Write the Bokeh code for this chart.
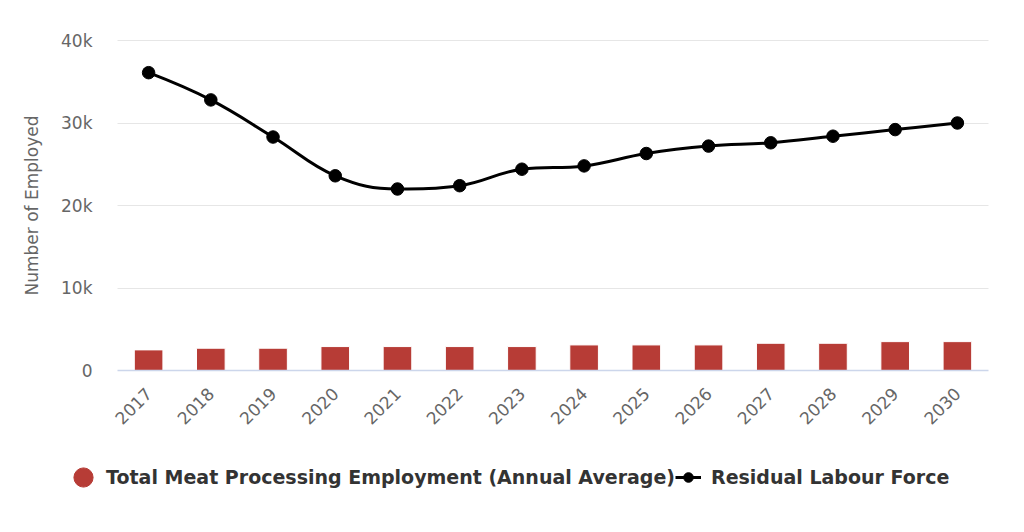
import math
from bokeh.plotting import figure
from bokeh.models import (Range1d, FixedTicker, Legend, LegendItem, ColumnDataSource)
from bokeh.embed import file_html
from bokeh.resources import INLINE

years = ["2017", "2018", "2019", "2020", "2021", "2022", "2023",
         "2024", "2025", "2026", "2027", "2028", "2029", "2030"]
meat_employment = [2500, 2700, 2700, 2900, 2900, 2900, 2900,
                   3100, 3100, 3100, 3300, 3300, 3500, 3500]
residual_labour = [36100, 32800, 28300, 23600, 22000, 22400, 24400,
                   24800, 26300, 27200, 27600, 28400, 29200, 30000]
y_ticks = [0, 10000, 20000, 30000, 40000]
y_tick_labels = ["0", "10k", "20k", "30k", "40k"]

FONT = "DejaVu Sans"
BAR_COLOR = "#b73c36"
xs = list(range(len(years)))

# page layout (pixels): the plotting area sits inside a full-size frame
W, H = 1008, 516
PL, PR, PT, PB = 117, 988, 40, 370
n = len(years)
x_scale = (PR - PL) / n
x_lo, x_hi = -0.5, n - 0.5
y_lo, y_hi = y_ticks[0], y_ticks[-1]
y_scale = (PB - PT) / (y_hi - y_lo)
x_range = Range1d(x_lo - PL / x_scale, x_hi + (W - PR) / x_scale)
y_range = Range1d(y_lo - (H - PB) / y_scale, y_hi + PT / y_scale)

p = figure(width=W, height=H, output_backend="svg", toolbar_location=None,
           x_range=x_range, y_range=y_range, min_border=0)
p.outline_line_color = None
p.background_fill_color = "white"
p.border_fill_color = "white"

# grid (only across the plotting area)
p.xgrid.grid_line_color = None
p.ygrid.ticker = FixedTicker(ticks=y_ticks[1:])
p.ygrid.grid_line_color = "#e6e6e6"
p.ygrid.grid_line_width = 1
if "cross_bounds" in p.ygrid[0].properties():
    p.ygrid.cross_bounds = (x_lo, x_hi)

# legend symbol for the bars: circles drawn first, fully covered by the bars
leg_bar = p.ellipse(x=xs, y=[v / 2 for v in meat_employment], width=16, height=16,
                    width_units="screen", height_units="screen",
                    fill_color=BAR_COLOR, line_color=BAR_COLOR)

# bars
bars = p.vbar(x=xs, top=meat_employment, width=0.46, bottom=0,
              fill_color=BAR_COLOR, line_color="white", line_width=1)

# Highcharts-like spline (smoothing 1.5) computed from the data points
def spline_controls(x, y, smoothing=1.5):
    m = len(x)
    left = [None] * m
    right = [None] * m
    denom = smoothing + 1
    for i in range(1, m - 1):
        lx = (smoothing * x[i] + x[i - 1]) / denom
        ly = (smoothing * y[i] + y[i - 1]) / denom
        rx = (smoothing * x[i] + x[i + 1]) / denom
        ry = (smoothing * y[i] + y[i + 1]) / denom
        if rx != lx:
            corr = ((ry - ly) * (rx - x[i])) / (rx - lx) + y[i] - ry
            ly += corr
            ry += corr
        if ly > y[i - 1] and ly > y[i]:
            ly = max(y[i - 1], y[i]); ry = 2 * y[i] - ly
        elif ly < y[i - 1] and ly < y[i]:
            ly = min(y[i - 1], y[i]); ry = 2 * y[i] - ly
        if ry > y[i + 1] and ry > y[i]:
            ry = max(y[i + 1], y[i]); ly = 2 * y[i] - ry
        elif ry < y[i + 1] and ry < y[i]:
            ry = min(y[i + 1], y[i]); ly = 2 * y[i] - ry
        left[i] = (lx, ly)
        right[i] = (rx, ry)
    segs = dict(x0=[], y0=[], x1=[], y1=[], cx0=[], cy0=[], cx1=[], cy1=[])
    for i in range(1, m):
        c0 = right[i - 1] if right[i - 1] else (x[i - 1], y[i - 1])
        c1 = left[i] if left[i] else (x[i], y[i])
        segs["x0"].append(x[i - 1]); segs["y0"].append(y[i - 1])
        segs["x1"].append(x[i]); segs["y1"].append(y[i])
        segs["cx0"].append(c0[0]); segs["cy0"].append(c0[1])
        segs["cx1"].append(c1[0]); segs["cy1"].append(c1[1])
    return segs

segs = ColumnDataSource(spline_controls(xs, residual_labour))
curve = p.bezier(x0="x0", y0="y0", x1="x1", y1="y1", cx0="cx0", cy0="cy0",
                 cx1="cx1", cy1="cy1", source=segs, line_color="black", line_width=3)
# legend symbol for the line: smaller dots hidden under the real markers
leg_pt = p.scatter(x=xs, y=residual_labour, marker="circle", size=10,
                   fill_color="black", line_color="black")
pts = p.scatter(x=xs, y=residual_labour, size=12.5, marker="circle",
                fill_color="black", line_color="black")

legend = Legend(items=[
    LegendItem(label="Total Meat Processing Employment (Annual Average)", renderers=[leg_bar]),
    LegendItem(label="Residual Labour Force", renderers=[curve, leg_pt]),
], orientation="horizontal", location=(70, H - 489))
legend.label_text_font = FONT
legend.label_text_font_style = "bold"
legend.label_text_font_size = "19px"
legend.label_text_color = "#333333"
legend.glyph_width = 26
legend.glyph_height = 24
legend.label_standoff = 10
legend.spacing = 0
legend.padding = 8
legend.margin = 0
legend.border_line_color = None
legend.background_fill_alpha = 0
p.add_layout(legend, "center")

# axes drawn at fixed positions inside the frame
p.xaxis.fixed_location = 0
p.xaxis.bounds = (x_lo, x_hi)
p.xaxis.ticker = FixedTicker(ticks=xs)
p.xaxis.major_label_overrides = {i: y for i, y in enumerate(years)}
p.xaxis.major_label_orientation = math.pi / 4
p.xaxis.major_label_text_font = FONT
p.xaxis.major_label_text_font_size = "17px"
p.xaxis.major_label_text_color = "#666666"
p.xaxis.major_tick_line_color = None
p.xaxis.minor_tick_line_color = None
p.xaxis.axis_line_color = "#ccd6eb"
p.xaxis.axis_line_width = 1.5
p.xaxis.major_label_standoff = 14

p.yaxis.fixed_location = x_lo
p.yaxis.bounds = (y_lo, y_hi)
p.yaxis.ticker = FixedTicker(ticks=y_ticks)
p.yaxis.major_label_overrides = {t: l for t, l in zip(y_ticks, y_tick_labels)}
p.yaxis.major_label_text_font = FONT
p.yaxis.major_label_text_font_size = "17px"
p.yaxis.major_label_text_color = "#666666"
p.yaxis.major_tick_line_color = None
p.yaxis.minor_tick_line_color = None
p.yaxis.axis_line_color = None
p.yaxis.major_label_standoff = 19
p.yaxis.axis_label = "Number of Employed"
p.yaxis.axis_label_text_font = FONT
p.yaxis.axis_label_text_font_style = "normal"
p.yaxis.axis_label_text_font_size = "17px"
p.yaxis.axis_label_text_color = "#666666"
p.yaxis.axis_label_standoff = 16

open("out.html", "w").write(file_html(p, INLINE))
